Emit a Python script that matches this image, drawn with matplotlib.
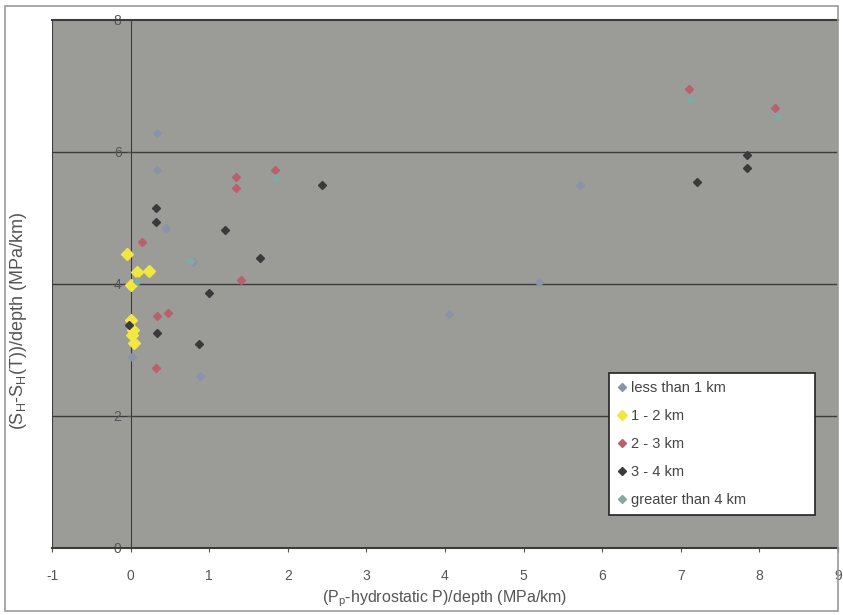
import matplotlib
matplotlib.use("Agg")
import matplotlib.pyplot as plt
from matplotlib.patches import Rectangle

plt.rcParams['font.family'] = ['Liberation Sans', 'DejaVu Sans']
plt.rcParams['axes.unicode_minus'] = False

labels = ['less than 1 km', '1 - 2 km', '2 - 3 km', '3 - 4 km', 'greater than 4 km']
colors = ['#8a93a8', '#f2e640', '#b8606c', '#3a3a3a', '#86a8a2']

x_lt1 = [0.33, 0.34, 0.79, 0.88, 4.05, 5.72, 5.20, 0.02, 0.45]
y_lt1 = [6.29, 5.73, 4.33, 2.60, 3.55, 5.50, 4.03, 2.90, 4.85]

x_12 = [-0.04, 0.08, 0.23, 0.01, 0.00, 0.03, 0.04, 0.02]
y_12 = [4.45, 4.18, 4.20, 3.98, 3.45, 3.30, 3.10, 3.22]

x_23 = [1.34, 1.34, 1.84, 7.11, 8.20, 0.47, 1.40, 0.32, 0.14, 0.33]
y_23 = [5.45, 5.62, 5.73, 6.95, 6.67, 3.56, 4.06, 2.72, 4.64, 3.52]

x_34 = [0.32, 0.32, 1.20, 1.00, 0.87, 2.43, 7.21, 7.84, 7.84, 0.33, 1.65, -0.02]
y_34 = [5.15, 4.94, 4.82, 3.86, 3.09, 5.50, 5.55, 5.76, 5.95, 3.25, 4.39, 3.38]

x_gt4 = [0.75, 1.85, 8.22, 7.12, 0.08]
y_gt4 = [4.35, 5.60, 6.55, 6.80, 4.05]

xs = [x_lt1, x_12, x_23, x_34, x_gt4]
ys = [y_lt1, y_12, y_23, y_34, y_gt4]

fig = plt.figure(figsize=(8.43, 6.15), dpi=100)
fig.patches.append(Rectangle((0.006, 0.006), 0.988, 0.984, transform=fig.transFigure,
                             fill=False, edgecolor='#9a9a9a', linewidth=1.2))
ax = fig.add_axes([0.0617, 0.109, 0.9323, 0.8585])
ax.set_facecolor('#9b9b97')

for i in range(5):
    ms = 6 if i == 1 else 4.5
    ax.plot(xs[i], ys[i], linestyle='none', marker='D', markersize=ms,
            color=colors[i], markeredgecolor=colors[i], label=labels[i], zorder=3)

ax.set_xlim(-1, 9)
ax.set_ylim(0, 8)
ax.set_xticks(range(-1, 10))
ax.set_yticks([0, 2, 4, 6, 8])

for y in [2, 4, 6]:
    ax.axhline(y, color='#3c3c3c', linewidth=1.0, zorder=1)
ax.axvline(-1, color='#3c3c3c', linewidth=1.5, zorder=2)

ax.spines['left'].set_position(('data', 0))
ax.spines['left'].set_color('#3c3c3c')
ax.spines['right'].set_visible(False)
for s in ['top', 'bottom']:
    ax.spines[s].set_color('#3c3c3c')
    ax.spines[s].set_linewidth(1.5)

ax.tick_params(axis='both', colors='#555555', labelsize=10, length=3)
ax.tick_params(axis='x', pad=12)

ax.set_xlabel(r'(P$_\mathregular{p}$-hydrostatic P)/depth (MPa/km)', color='#555555',
              fontsize=11.5, labelpad=4)
ax.set_ylabel(r'(S$_\mathregular{H}$-S$_\mathregular{H}$(T))/depth (MPa/km)', color='#555555',
              fontsize=13)
ax.yaxis.set_label_coords(-0.029, 0.43)

leg = ax.legend(loc='lower left', bbox_to_anchor=(0.70, 0.049, 0.28, 0.282), mode='expand',
                fancybox=False, framealpha=1, edgecolor='#222222', fontsize=10.5,
                labelspacing=0.95, handlelength=0.6, handletextpad=0.3,
                borderpad=0.55, markerscale=0.8)
leg.get_frame().set_linewidth(1.2)
for t in leg.get_texts():
    t.set_color('#444444')

fig.savefig('out.png', dpi=100)
